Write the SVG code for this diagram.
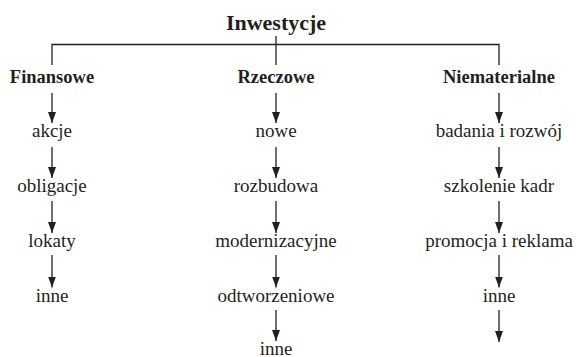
<svg xmlns="http://www.w3.org/2000/svg" width="576" height="357" viewBox="0 0 576 357">
  <style>
    text { font-family: "Liberation Serif", "Times New Roman", serif; fill: #231f20; text-anchor: middle; }
    .title { font-size: 22px; font-weight: bold; }
    .cat { font-size: 18.5px; font-weight: bold; }
    .item { font-size: 19px; }
    .conn line, .conn path { stroke: #231f20; stroke-width: 1.3; fill: none; }
    .arr { marker-end: url(#head); }
  </style>
  <defs>
    <marker id="head" viewBox="0 0 11 8" refX="11" refY="4" markerWidth="11" markerHeight="8" markerUnits="userSpaceOnUse" orient="auto">
      <path d="M0,0 L11,4 L0,8 Z" fill="#231f20" stroke="none"/>
    </marker>
  </defs>

  <rect width="576" height="357" fill="#ffffff"/>

  <!-- connectors -->
  <g class="conn">
    <!-- bracket from root to the three categories -->
    <path d="M52,65 V44.5 H499 V65"/>
    <line x1="276" y1="36" x2="276" y2="65"/>

    <!-- Finansowe column -->
    <line class="arr" x1="52" y1="93" x2="52" y2="123"/>
    <line class="arr" x1="52" y1="147" x2="52" y2="178"/>
    <line class="arr" x1="52" y1="201" x2="52" y2="233"/>
    <line class="arr" x1="52" y1="255" x2="52" y2="287.5"/>

    <!-- Rzeczowe column -->
    <line class="arr" x1="276" y1="93" x2="276" y2="123"/>
    <line class="arr" x1="276" y1="147" x2="276" y2="178"/>
    <line class="arr" x1="276" y1="201" x2="276" y2="233"/>
    <line class="arr" x1="276" y1="255" x2="276" y2="287.5"/>
    <line class="arr" x1="276" y1="310" x2="276" y2="341"/>

    <!-- Niematerialne column -->
    <line class="arr" x1="499" y1="93" x2="499" y2="123"/>
    <line class="arr" x1="499" y1="147" x2="499" y2="178"/>
    <line class="arr" x1="499" y1="201" x2="499" y2="233"/>
    <line class="arr" x1="499" y1="255" x2="499" y2="287.5"/>
    <line class="arr" x1="499" y1="310" x2="499" y2="342"/>
  </g>

  <g id="root"><text class="title" x="276" y="30">Inwestycje</text></g>

  <g id="finansowe"><text class="cat" x="52" y="83">Finansowe</text></g>
  <g id="f-akcje"><text class="item" x="52" y="137">akcje</text></g>
  <g id="f-obligacje"><text class="item" x="52" y="192">obligacje</text></g>
  <g id="f-lokaty"><text class="item" x="52" y="247">lokaty</text></g>
  <g id="f-inne"><text class="item" x="52" y="302">inne</text></g>

  <g id="rzeczowe"><text class="cat" x="276" y="83">Rzeczowe</text></g>
  <g id="r-nowe"><text class="item" x="276" y="137">nowe</text></g>
  <g id="r-rozbudowa"><text class="item" x="276" y="192">rozbudowa</text></g>
  <g id="r-modernizacyjne"><text class="item" x="276" y="247">modernizacyjne</text></g>
  <g id="r-odtworzeniowe"><text class="item" x="276" y="302">odtworzeniowe</text></g>
  <g id="r-inne"><text class="item" x="276" y="354.5">inne</text></g>

  <g id="niematerialne"><text class="cat" x="499" y="83">Niematerialne</text></g>
  <g id="n-badania"><text class="item" x="499" y="137">badania i rozwój</text></g>
  <g id="n-szkolenie"><text class="item" x="499" y="192">szkolenie kadr</text></g>
  <g id="n-promocja"><text class="item" x="499" y="247">promocja i reklama</text></g>
  <g id="n-inne"><text class="item" x="499" y="302">inne</text></g>
</svg>
